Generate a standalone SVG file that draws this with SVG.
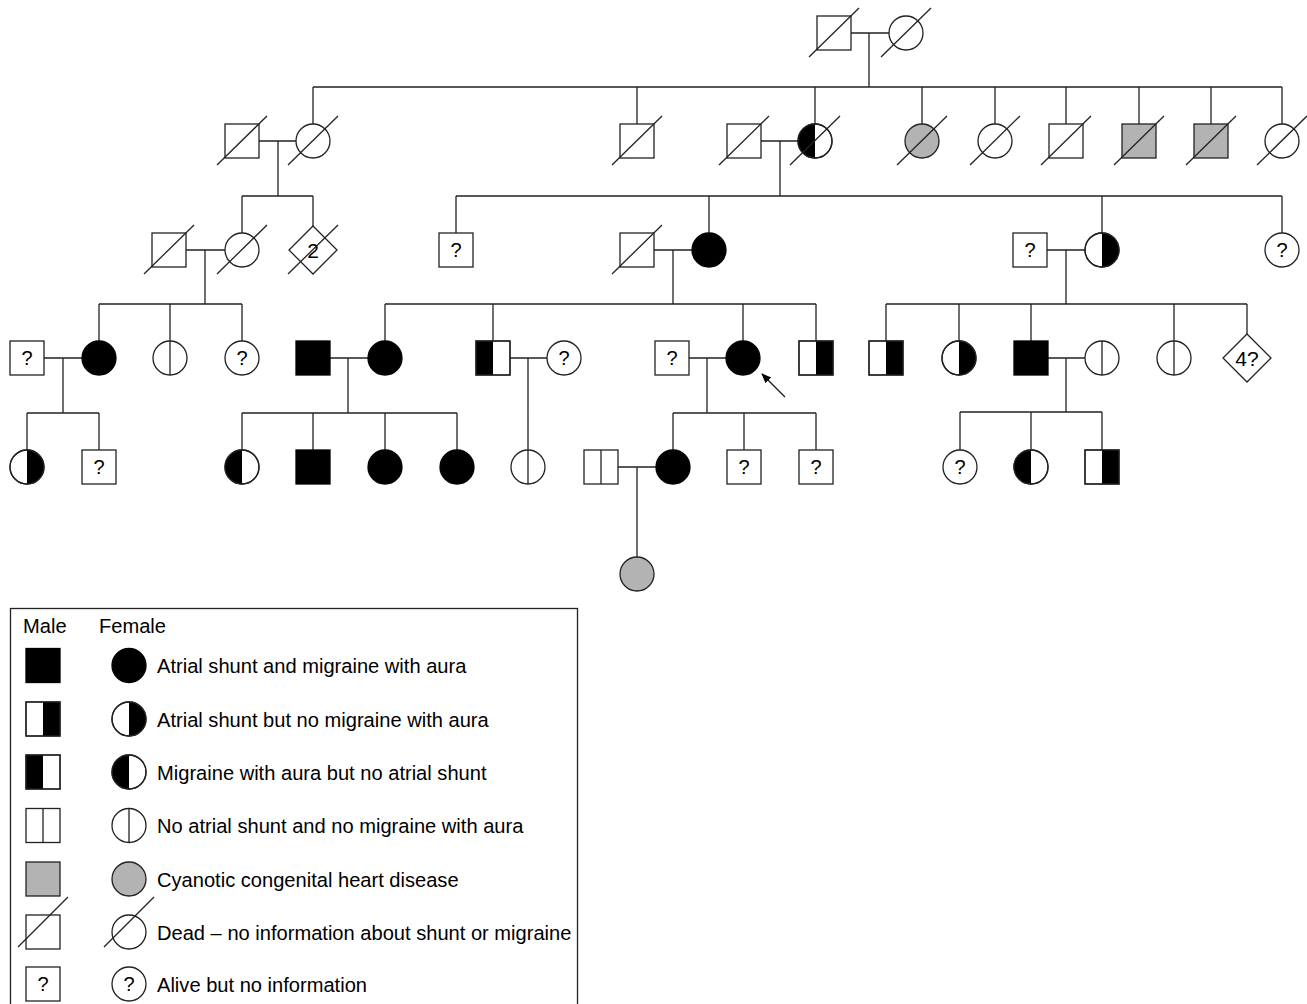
<svg xmlns="http://www.w3.org/2000/svg" width="1307" height="1004" viewBox="0 0 1307 1004">
<style>
.o{fill:#fff;stroke:#222;stroke-width:1.3}
.b{fill:#000;stroke:#000;stroke-width:1.3}
.g{fill:#b3b3b3;stroke:#222;stroke-width:1.3}
.ln{fill:none;stroke:#222;stroke-width:1.3}
.q{font-family:"Liberation Sans",Arial,sans-serif;font-size:20px;text-anchor:middle;fill:#000}
.d{font-family:"Liberation Sans",Arial,sans-serif;font-size:21px;text-anchor:middle;fill:#000}
.lg{font-family:"Liberation Sans",Arial,sans-serif;font-size:20.1px;fill:#000}
</style>
<defs>
<g id="M"><rect class="o" x="-17" y="-17" width="34" height="34"/></g>
<g id="F"><circle class="o" r="17"/></g>
<g id="MB"><rect class="b" x="-17" y="-17" width="34" height="34"/></g>
<g id="FB"><circle class="b" r="17"/></g>
<g id="MG"><rect class="g" x="-17" y="-17" width="34" height="34"/></g>
<g id="FG"><circle class="g" r="17"/></g>
<g id="MR"><rect class="o" x="-17" y="-17" width="34" height="34"/><rect fill="#000" x="0" y="-17" width="17" height="34"/><rect class="ln" x="-17" y="-17" width="34" height="34"/></g>
<g id="ML"><rect class="o" x="-17" y="-17" width="34" height="34"/><rect fill="#000" x="-17" y="-17" width="17" height="34"/><rect class="ln" x="-17" y="-17" width="34" height="34"/></g>
<g id="MV"><rect class="o" x="-17" y="-17" width="34" height="34"/><line class="ln" x1="0" y1="-17" x2="0" y2="17"/></g>
<g id="FR"><circle class="o" r="17"/><path fill="#000" d="M0,-17A17,17 0 0 1 0,17Z"/><circle class="ln" r="17"/></g>
<g id="FL"><circle class="o" r="17"/><path fill="#000" d="M0,-17A17,17 0 0 0 0,17Z"/><circle class="ln" r="17"/></g>
<g id="FV"><circle class="o" r="17"/><line class="ln" x1="0" y1="-17" x2="0" y2="17"/></g>
<g id="D"><polygon class="o" points="0,-24 24,0 0,24 -24,0"/></g>
<line id="X" class="ln" x1="-25" y1="24" x2="25" y2="-25"/>
<line id="XL" class="ln" x1="-25" y1="15" x2="25" y2="-35"/>
<marker id="ah" viewBox="0 0 10 10" refX="9" refY="5" markerWidth="10" markerHeight="10" markerUnits="userSpaceOnUse" orient="auto"><path d="M0,1 L10,5 L0,9 Z" fill="#000"/></marker>
</defs>

<g id="connectors" class="ln">
<path d="M851,33H889M869,33V87
M313,87H1282M313,87V124M637,87V124M815,87V124M922,87V124M995,87V124M1066,87V124M1139,87V124M1211,87V124M1282,87V124
M259,141H296M278,141V196M242,196H313M242,196V233M313,196V226
M761,141H798M780,141V196M456,196H1282M456,196V233M709,196V233M1102,196V233M1282,196V233
M186,250H225M205,250V304M99,304H242M99,304V341M170,304V341M242,304V341
M654,250H692M673,250V304M385,304H816M385,304V341M493,304V341M743,304V341M816,304V341
M1047,250H1085M1066,250V304M886,304H1247M886,304V341M959,304V341M1031,304V341M1174,304V341M1247,304V334
M44,358H82M63,358V413M27,413H99M27,413V450M99,413V450
M330,358H368M348,358V413M242,413H457M242,413V450M313,413V450M385,413V450M457,413V450
M510,358H547M528,358V450
M689,358H726M707,358V413M673,413H816M673,413V450M744,413V450M816,413V450
M1048,358H1085M1066,358V412M960,412H1102M960,412V450M1031,412V450M1102,412V450
M618,467H656M637,467V557"/>
<line x1="785" y1="397" x2="762" y2="374" marker-end="url(#ah)"/>
</g>

<!-- Generation I -->
<g id="g1-m" transform="translate(834,33)"><use href="#M"/><use href="#X"/></g>
<g id="g1-f" transform="translate(906,33)"><use href="#F"/><use href="#X"/></g>

<!-- Generation II -->
<g id="g2-m242" transform="translate(242,141)"><use href="#M"/><use href="#X"/></g>
<g id="g2-f313" transform="translate(313,141)"><use href="#F"/><use href="#X"/></g>
<g id="g2-m637" transform="translate(637,141)"><use href="#M"/><use href="#X"/></g>
<g id="g2-m744" transform="translate(744,141)"><use href="#M"/><use href="#X"/></g>
<g id="g2-f815" transform="translate(815,141)"><use href="#FL"/><use href="#X"/></g>
<g id="g2-f922" transform="translate(922,141)"><use href="#FG"/><use href="#X"/></g>
<g id="g2-f995" transform="translate(995,141)"><use href="#F"/><use href="#X"/></g>
<g id="g2-m1066" transform="translate(1066,141)"><use href="#M"/><use href="#X"/></g>
<g id="g2-m1139" transform="translate(1139,141)"><use href="#MG"/><use href="#X"/></g>
<g id="g2-m1211" transform="translate(1211,141)"><use href="#MG"/><use href="#X"/></g>
<g id="g2-f1282" transform="translate(1282,141)"><use href="#F"/><use href="#X"/></g>

<!-- Generation III -->
<g id="g3-m169" transform="translate(169,250)"><use href="#M"/><use href="#X"/></g>
<g id="g3-f242" transform="translate(242,250)"><use href="#F"/><use href="#X"/></g>
<g id="g3-d313" transform="translate(313,250)"><use href="#D"/><text class="d" x="0" y="7.5">2</text><use href="#X"/></g>
<g id="g3-m456" transform="translate(456,250)"><use href="#M"/><text class="q" x="0" y="7">?</text></g>
<g id="g3-m637" transform="translate(637,250)"><use href="#M"/><use href="#X"/></g>
<g id="g3-f709" transform="translate(709,250)"><use href="#FB"/></g>
<g id="g3-m1030" transform="translate(1030,250)"><use href="#M"/><text class="q" x="0" y="7">?</text></g>
<g id="g3-f1102" transform="translate(1102,250)"><use href="#FR"/></g>
<g id="g3-f1282" transform="translate(1282,250)"><use href="#F"/><text class="q" x="0" y="7">?</text></g>

<!-- Generation IV -->
<g id="g4-m27" transform="translate(27,358)"><use href="#M"/><text class="q" x="0" y="7">?</text></g>
<g id="g4-f99" transform="translate(99,358)"><use href="#FB"/></g>
<g id="g4-f170" transform="translate(170,358)"><use href="#FV"/></g>
<g id="g4-f242" transform="translate(242,358)"><use href="#F"/><text class="q" x="0" y="7">?</text></g>
<g id="g4-m313" transform="translate(313,358)"><use href="#MB"/></g>
<g id="g4-f385" transform="translate(385,358)"><use href="#FB"/></g>
<g id="g4-m493" transform="translate(493,358)"><use href="#ML"/></g>
<g id="g4-f564" transform="translate(564,358)"><use href="#F"/><text class="q" x="0" y="7">?</text></g>
<g id="g4-m672" transform="translate(672,358)"><use href="#M"/><text class="q" x="0" y="7">?</text></g>
<g id="g4-f743" transform="translate(743,358)"><use href="#FB"/></g>
<g id="g4-m816" transform="translate(816,358)"><use href="#MR"/></g>
<g id="g4-m886" transform="translate(886,358)"><use href="#MR"/></g>
<g id="g4-f959" transform="translate(959,358)"><use href="#FR"/></g>
<g id="g4-m1031" transform="translate(1031,358)"><use href="#MB"/></g>
<g id="g4-f1102" transform="translate(1102,358)"><use href="#FV"/></g>
<g id="g4-f1174" transform="translate(1174,358)"><use href="#FV"/></g>
<g id="g4-d1247" transform="translate(1247,358)"><use href="#D"/><text class="d" x="0" y="7.5">4?</text></g>

<!-- Generation V -->
<g id="g5-f27" transform="translate(27,467)"><use href="#FR"/></g>
<g id="g5-m99" transform="translate(99,467)"><use href="#M"/><text class="q" x="0" y="7">?</text></g>
<g id="g5-f242" transform="translate(242,467)"><use href="#FL"/></g>
<g id="g5-m313" transform="translate(313,467)"><use href="#MB"/></g>
<g id="g5-f385" transform="translate(385,467)"><use href="#FB"/></g>
<g id="g5-f457" transform="translate(457,467)"><use href="#FB"/></g>
<g id="g5-f528" transform="translate(528,467)"><use href="#FV"/></g>
<g id="g5-m601" transform="translate(601,467)"><use href="#MV"/></g>
<g id="g5-f673" transform="translate(673,467)"><use href="#FB"/></g>
<g id="g5-m744" transform="translate(744,467)"><use href="#M"/><text class="q" x="0" y="7">?</text></g>
<g id="g5-m816" transform="translate(816,467)"><use href="#M"/><text class="q" x="0" y="7">?</text></g>
<g id="g5-f960" transform="translate(960,467)"><use href="#F"/><text class="q" x="0" y="7">?</text></g>
<g id="g5-f1031" transform="translate(1031,467)"><use href="#FL"/></g>
<g id="g5-m1102" transform="translate(1102,467)"><use href="#MR"/></g>

<!-- Generation VI -->
<g id="g6-f637" transform="translate(637,574)"><use href="#FG"/></g>

<!-- Legend -->
<g id="legend">
<rect class="ln" x="10.5" y="608.5" width="567" height="420"/>
<text class="lg" x="23" y="633">Male</text>
<text class="lg" x="99" y="633">Female</text>
<g transform="translate(43,665.5)"><use href="#MB"/></g>
<g transform="translate(129,665.5)"><use href="#FB"/></g>
<text class="lg" x="157" y="673">Atrial shunt and migraine with aura</text>
<g transform="translate(43,719)"><use href="#MR"/></g>
<g transform="translate(129,719)"><use href="#FR"/></g>
<text class="lg" x="157" y="726.5">Atrial shunt but no migraine with aura</text>
<g transform="translate(43,772)"><use href="#ML"/></g>
<g transform="translate(129,772)"><use href="#FL"/></g>
<text class="lg" x="157" y="779.5">Migraine with aura but no atrial shunt</text>
<g transform="translate(43,825.5)"><use href="#MV"/></g>
<g transform="translate(129,825.5)"><use href="#FV"/></g>
<text class="lg" x="157" y="833">No atrial shunt and no migraine with aura</text>
<g transform="translate(43,879)"><use href="#MG"/></g>
<g transform="translate(129,879)"><use href="#FG"/></g>
<text class="lg" x="157" y="886.5">Cyanotic congenital heart disease</text>
<g transform="translate(43,932)"><use href="#M"/><use href="#XL"/></g>
<g transform="translate(129,932)"><use href="#F"/><use href="#XL"/></g>
<text class="lg" x="157" y="939.5">Dead – no information about shunt or migraine</text>
<g transform="translate(43,984)"><use href="#M"/><text class="q" x="0" y="7">?</text></g>
<g transform="translate(129,984)"><use href="#F"/><text class="q" x="0" y="7">?</text></g>
<text class="lg" x="157" y="991.5">Alive but no information</text>
</g>
</svg>
